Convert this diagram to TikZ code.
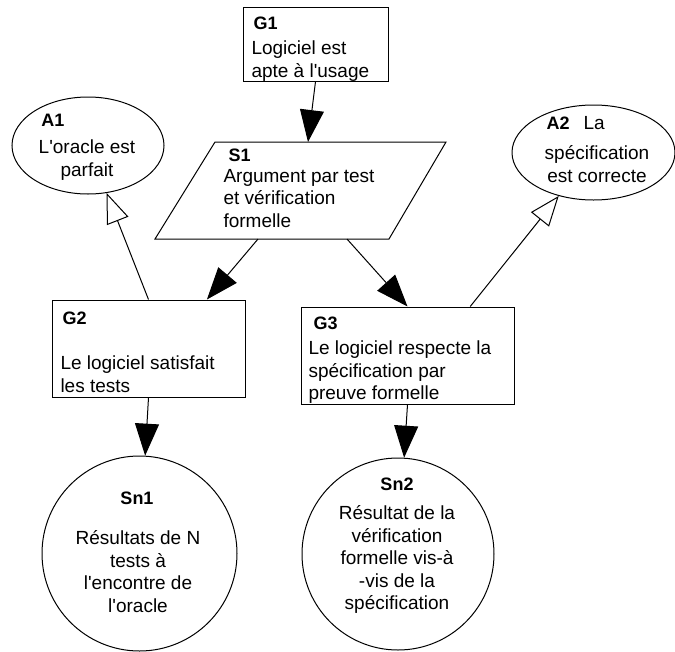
\documentclass[tikz,border=0pt]{standalone}
\usepackage{fontspec}
\setmainfont{Liberation Sans}[Ligatures=TeXOff]
\usetikzlibrary{arrows.meta,shapes.geometric}

\begin{document}
\begin{tikzpicture}[x=1pt,y=-1pt,line width=1pt,
  goal/.style={draw,rectangle,inner sep=0pt},
  assum/.style={draw,ellipse,inner sep=0pt},
  soln/.style={draw,circle,inner sep=0pt},
  tag/.style={inner sep=0pt,font=\fontsize{18}{22}\selectfont\bfseries},
  txt/.style={inner sep=0pt,font=\fontsize{19}{22.5}\selectfont},
  fullarrow/.style={-{Triangle[length=32pt,width=24pt]}},
  openarrow/.style={-{Triangle[open,length=30pt,width=23pt]}}]
\useasboundingbox (0,0) rectangle (675,651);
\node[goal,minimum width=145pt,minimum height=74pt] (g1) at (315.5,44) {};
\node[tag,anchor=west] (g1tag) at (253,23) {G1};
\node[txt,anchor=north west,align=left] (g1txt) at (251,40.5) {Logiciel est\\apte à l'usage};
\draw (155,239) -- (215,142) -- (446,142) -- (389,239) -- cycle;
\coordinate (s1top) at (308,142);
\coordinate (s1bl) at (258,239);
\coordinate (s1br) at (347,239);
\node[tag,anchor=west] (s1tag) at (228,155) {S1};
\node[txt,anchor=north west,align=left] (s1txt) at (223,168.5) {Argument par test\\et vérification\\formelle};
\node[assum,minimum width=152pt,minimum height=97pt] (a1) at (88,145.5) {};
\node[tag,anchor=west] (a1tag) at (41,120) {A1};
\node[txt,anchor=north,align=center] (a1txt) at (87,139.5) {L'oracle est\\parfait};
\node[assum,minimum width=163pt,minimum height=95pt] (a2) at (593.5,152.5) {};
\node[tag,anchor=west] (a2tag) at (546,123) {A2\hspace{14pt}\mdseries\fontsize{19}{22.5}\selectfont La};
\node[txt,anchor=north,align=center] (a2txt) at (597,145.5) {spécification\\est correcte};
\node[goal,minimum width=193pt,minimum height=97pt] (g2) at (148.5,348.5) {};
\node[tag,anchor=west] (g2tag) at (62,318) {G2};
\node[txt,anchor=north west,align=left] (g2txt) at (60,355.5) {Le logiciel satisfait\\les tests};
\node[goal,minimum width=213pt,minimum height=97pt] (g3) at (407.5,355.5) {};
\node[tag,anchor=west] (g3tag) at (313,323) {G3};
\node[txt,anchor=north west,align=left] (g3txt) at (308,340.5) {Le logiciel respecte la\\spécification par\\preuve formelle};
\node[soln,minimum size=195pt] (sn1) at (139.5,553.5) {};
\node[tag] (sn1tag) at (137,498) {Sn1};
\node[txt,anchor=north,align=center] (sn1txt) at (138,530.5) {Résultats de N\\tests à\\l'encontre de\\l'oracle};
\node[soln,minimum size=192pt] (sn2) at (398,554) {};
\node[tag] (sn2tag) at (397,484) {Sn2};
\node[txt,anchor=north,align=center] (sn2txt) at (397,505.5) {Résultat de la\\vérification\\formelle vis-à\\-vis de la\\spécification};
\draw[fullarrow] (g1.south) -- (s1top);
\draw[fullarrow] (s1bl) -- (g2.40.6);
\draw[fullarrow] (s1br) -- (g3.north);
\draw[fullarrow] (g2.south) -- (sn1);
\draw[fullarrow] (g3.south) -- (sn2);
\draw[openarrow] (g2.north) -- (a1);
\draw[openarrow] (g3.38) -- (a2);
\end{tikzpicture}
\end{document}
